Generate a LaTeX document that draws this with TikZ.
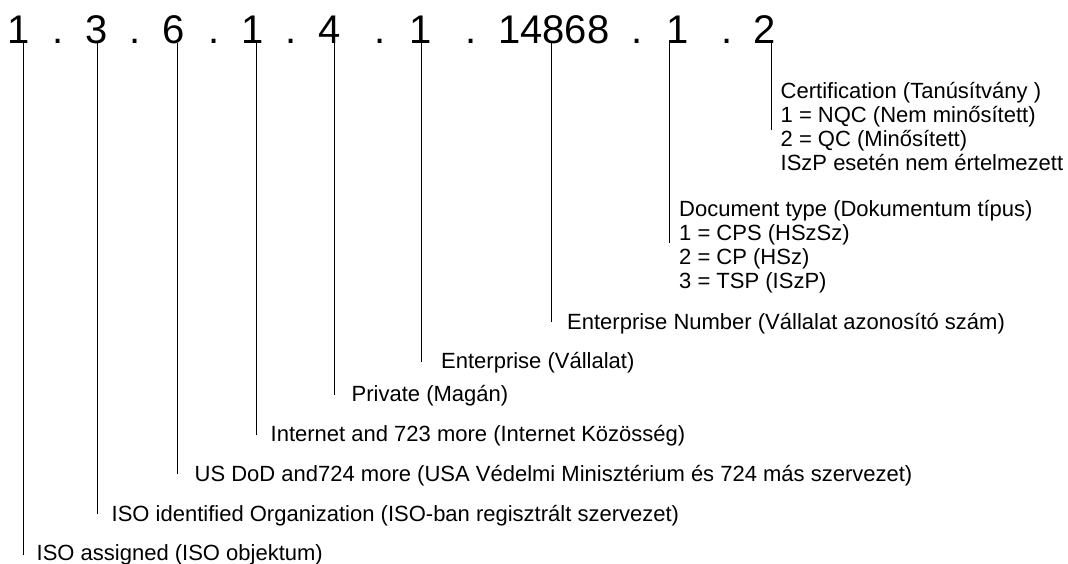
\documentclass[tikz,border=0pt]{standalone}
\usepackage{fontspec}
\setmainfont{Liberation Sans}
\begin{document}
\begin{tikzpicture}[x=1pt,y=-1pt,
  num/.style={anchor=base, inner sep=0pt, font=\fontsize{40}{48}\selectfont},
  lbl/.style={anchor=base west, inner sep=0pt, font=\fontsize{22}{26}\selectfont},
  stem/.style={line width=1pt, black}]
\useasboundingbox (0,0) rectangle (1068,563);
% top identifier
\node[num] (n1) at (18.5,43) {1};
\node[num] (d1) at (58,43) {.};
\node[num] (n2) at (96.5,43) {3};
\node[num] (d2) at (135,43) {.};
\node[num] (n3) at (173.5,43) {6};
\node[num] (d3) at (214,43) {.};
\node[num] (n4) at (252.5,43) {1};
\node[num] (d4) at (291.5,43) {.};
\node[num] (n5) at (330,43) {4};
\node[num] (d5) at (380.5,43) {.};
\node[num] (n6) at (420.5,43) {1};
\node[num] (d6) at (471.5,43) {.};
\node[num] (n7) at (553.7,43) {14868};
\node[num] (d7) at (637.5,43) {.};
\node[num] (n8) at (677.5,43) {1};
\node[num] (d8) at (727,43) {.};
\node[num] (n9) at (765,43) {2};
% labels
\node[lbl] (l1) at (36.5,560) {ISO assigned (ISO objektum)};
\node[lbl] (l2) at (111.5,521) {ISO identified Organization (ISO-ban regisztrált szervezet)};
\node[lbl] (l3) at (194.5,481) {US DoD and724 more (USA Védelmi Minisztérium és 724 más szervezet)};
\node[lbl] (l4) at (270.5,441) {Internet and 723 more (Internet Közösség)};
\node[lbl] (l5) at (351.5,401) {Private (Magán)};
\node[lbl] (l6) at (441,368) {Enterprise (Vállalat)};
\node[lbl] (l7) at (567,329) {Enterprise Number (Vállalat azonosító szám)};
\node[lbl] (l8) at (679,216) {Document type (Dokumentum típus)};
\node[lbl] (l8b) at (679,240) {1 = CPS (HSzSz)};
\node[lbl] (l8c) at (679,264) {2 = CP (HSz)};
\node[lbl] (l8d) at (679,288) {3 = TSP (ISzP)};
\node[lbl] (l9) at (780.5,98) {Certification (Tanúsítvány )};
\node[lbl] (l9b) at (780.5,122) {1 = NQC (Nem minősített)};
\node[lbl] (l9c) at (780.5,146) {2 = QC (Minősített)};
\node[lbl] (l9d) at (780.5,170) {ISzP esetén nem értelmezett};
% stem ends
\coordinate (b1) at (23,555);
\coordinate (b2) at (97,514);
\coordinate (b3) at (177,474);
\coordinate (b4) at (256,435);
\coordinate (b5) at (334,395);
\coordinate (b6) at (421,362);
\coordinate (b7) at (551,322);
\coordinate (b8) at (669,243);
\coordinate (b9) at (771,130);
% stems
\draw[stem] (n1.base -| b1) -- (b1);
\draw[stem] (n2.base -| b2) -- (b2);
\draw[stem] (n3.base -| b3) -- (b3);
\draw[stem] (n4.base -| b4) -- (b4);
\draw[stem] (n5.base -| b5) -- (b5);
\draw[stem] (n6.base -| b6) -- (b6);
\draw[stem] (n7.base -| b7) -- (b7);
\draw[stem] (n8.base -| b8) -- (b8);
\draw[stem] (n9.base -| b9) -- (b9);
\end{tikzpicture}
\end{document}
